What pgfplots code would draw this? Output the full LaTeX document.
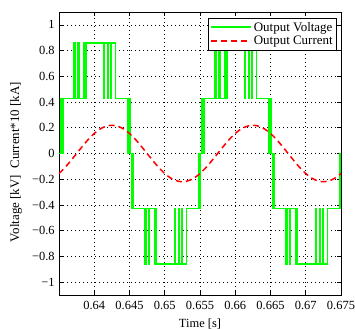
\documentclass[border=0pt]{standalone}
\usepackage{pgfplots}
\pgfplotsset{compat=1.18}
\usepackage{fontspec}
\setmainfont{Liberation Serif}
\definecolor{vgreen}{RGB}{0,255,0}
\definecolor{cred}{RGB}{255,0,0}
\begin{document}
\fontsize{12.5}{14}\selectfont
\begin{tikzpicture}
\useasboundingbox (-59bp,-34bp) rectangle (296bp,295bp);
\begin{axis}[
  at={(0bp,0bp)}, anchor=south west,
  scale only axis,
  width=282bp, height=283bp,
  xmin=0.635, xmax=0.675,
  ymin=-1.1, ymax=1.1,
  xtick={0.64,0.645,0.65,0.655,0.66,0.665,0.67,0.675},
  xticklabels={0.64,0.645,0.65,0.655,0.66,0.665,0.67,0.675},
  ytick={-1,-0.8,-0.6,-0.4,-0.2,0,0.2,0.4,0.6,0.8,1},
  yticklabels={−1,−0.8,−0.6,−0.4,−0.2,0,0.2,0.4,0.6,0.8,1},
  scaled x ticks=false,
  tick label style={font=\fontsize{12.5}{14}\selectfont},
  xticklabel style={yshift=-2bp},
  tick align=inside,
  major tick length=4.5bp,
  tick style={black, line width=0.6bp},
  axis line style={black, line width=0.8bp},
  grid=major,
  major grid style={black, line width=0.55bp, dash pattern=on 1bp off 3bp},
  xlabel={Time [s]},
  ylabel={Voltage [kV] \ Current*10 [kA]},
  every axis x label/.style={at={(axis description cs:0.5,-0.102)}, anchor=center, font=\fontsize{12.5}{14}\selectfont},
  every axis y label/.style={at={(axis description cs:-0.152,0.47)}, rotate=90, anchor=center, font=\fontsize{13}{14}\selectfont},
  legend style={at={(0.986,0.979)}, anchor=north east, draw=black, line width=0.8bp, fill=white, inner sep=2bp, row sep=-1bp, font=\fontsize{13}{14}\selectfont},
  legend cell align=left,
  clip=true,
]
\addplot[const plot, color=vgreen, line width=1.3bp,
  legend image code/.code={\draw[draw=vgreen, line width=1.6bp] (0bp,0.5bp) -- (40bp,0.5bp);}] coordinates {
(0.63500,0)
(0.63527,0.43)
(0.63541,0)
(0.63555,0.43)
(0.63711,0.86)
(0.63732,0.43)
(0.63768,0.86)
(0.63782,0.43)
(0.63852,0.86)
(0.63867,0.43)
(0.63881,0.86)
(0.64135,0.43)
(0.64149,0.86)
(0.64192,0.43)
(0.64206,0.86)
(0.64234,0.43)
(0.64248,0.86)
(0.64305,0.43)
(0.64478,0)
(0.64492,0.43)
(0.64506,0)
(0.64527,-0.43)
(0.64541,0)
(0.64555,-0.43)
(0.64711,-0.86)
(0.64732,-0.43)
(0.64768,-0.86)
(0.64782,-0.43)
(0.64852,-0.86)
(0.64867,-0.43)
(0.64881,-0.86)
(0.65135,-0.43)
(0.65149,-0.86)
(0.65192,-0.43)
(0.65206,-0.86)
(0.65234,-0.43)
(0.65248,-0.86)
(0.65305,-0.43)
(0.65478,0)
(0.65492,-0.43)
(0.65506,0)
(0.65527,0.43)
(0.65541,0)
(0.65555,0.43)
(0.65711,0.86)
(0.65732,0.43)
(0.65768,0.86)
(0.65782,0.43)
(0.65852,0.86)
(0.65867,0.43)
(0.65881,0.86)
(0.66135,0.43)
(0.66149,0.86)
(0.66192,0.43)
(0.66206,0.86)
(0.66234,0.43)
(0.66248,0.86)
(0.66305,0.43)
(0.66478,0)
(0.66492,0.43)
(0.66506,0)
(0.66527,-0.43)
(0.66541,0)
(0.66555,-0.43)
(0.66711,-0.86)
(0.66732,-0.43)
(0.66768,-0.86)
(0.66782,-0.43)
(0.66852,-0.86)
(0.66867,-0.43)
(0.66881,-0.86)
(0.67135,-0.43)
(0.67149,-0.86)
(0.67192,-0.43)
(0.67206,-0.86)
(0.67234,-0.43)
(0.67248,-0.86)
(0.67305,-0.43)
(0.67478,0)
(0.67492,-0.43)
(0.67500,-0.43)
};
\addlegendentry{Output Voltage}
\addplot[smooth, color=cred, line width=1.5bp, dash pattern=on 6bp off 4bp,
  legend image code/.code={\draw[draw=cred, line width=1.5bp, dash pattern=on 6bp off 4bp] (0bp,0.5bp) -- (40bp,0.5bp);}] coordinates {
(0.635,-0.156)
(0.636,-0.100)
(0.637,-0.034)
(0.638,0.034)
(0.639,0.100)
(0.640,0.156)
(0.641,0.196)
(0.642,0.217)
(0.643,0.217)
(0.644,0.196)
(0.645,0.156)
(0.646,0.100)
(0.647,0.034)
(0.648,-0.034)
(0.649,-0.100)
(0.650,-0.156)
(0.651,-0.196)
(0.652,-0.217)
(0.653,-0.217)
(0.654,-0.196)
(0.655,-0.156)
(0.656,-0.100)
(0.657,-0.034)
(0.658,0.034)
(0.659,0.100)
(0.660,0.156)
(0.661,0.196)
(0.662,0.217)
(0.663,0.217)
(0.664,0.196)
(0.665,0.156)
(0.666,0.100)
(0.667,0.034)
(0.668,-0.034)
(0.669,-0.100)
(0.670,-0.156)
(0.671,-0.196)
(0.672,-0.217)
(0.673,-0.217)
(0.674,-0.196)
(0.675,-0.156)
};
\addlegendentry{Output Current}
\end{axis}
\end{tikzpicture}
\end{document}
